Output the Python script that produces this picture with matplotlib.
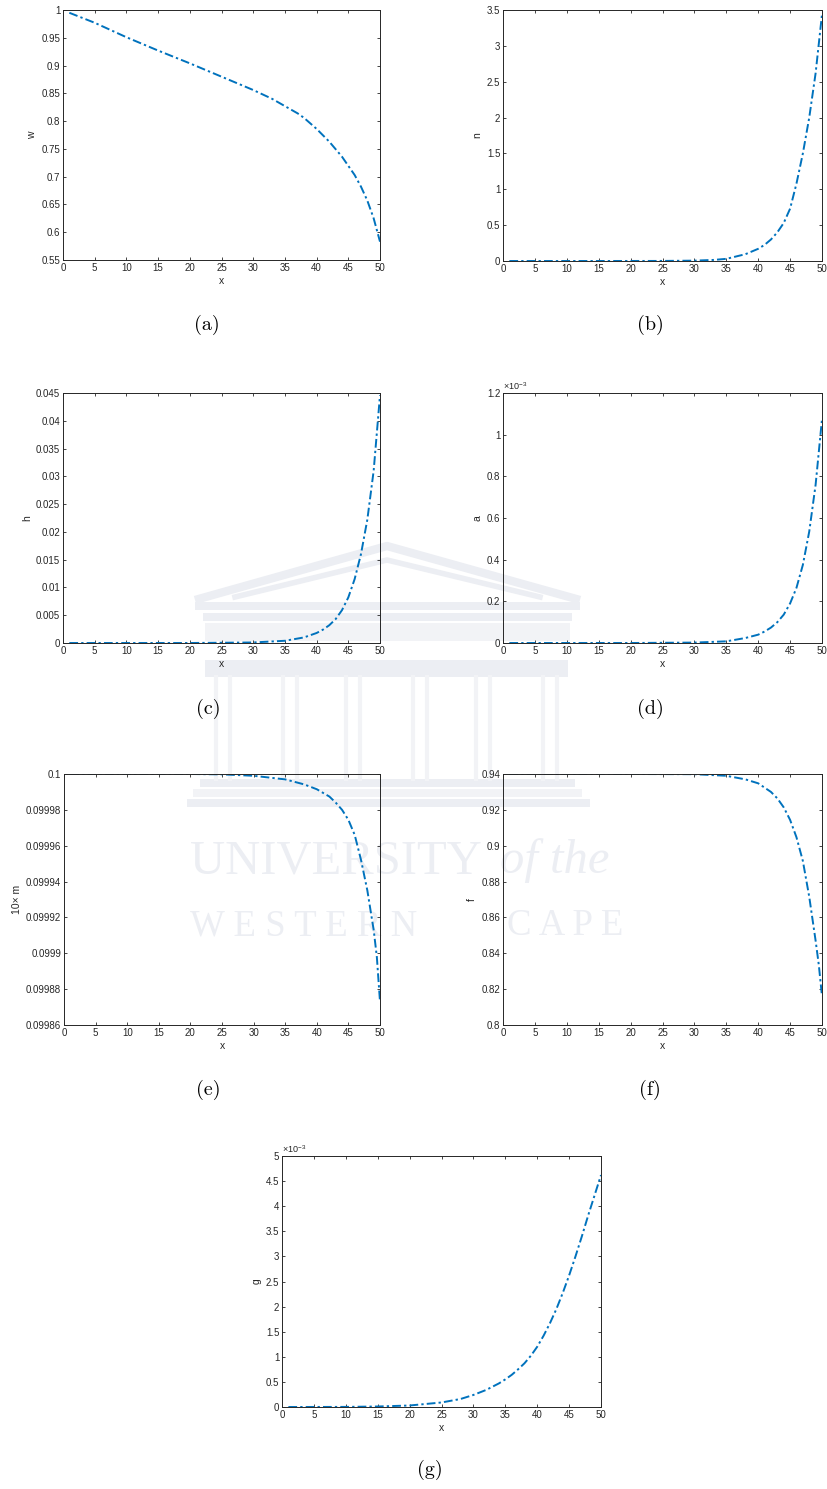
import matplotlib
matplotlib.use('Agg')
import matplotlib.pyplot as plt
from matplotlib.ticker import FormatStrFormatter
from matplotlib.patches import Rectangle
from matplotlib.lines import Line2D

# data
x_w = [1, 5, 10, 15, 20, 25, 30, 33, 35, 37, 38, 40, 42, 44, 46, 47, 48, 49, 50]
w = [0.995, 0.977, 0.951, 0.927, 0.904, 0.880, 0.856, 0.840, 0.827, 0.814,
     0.806, 0.786, 0.763, 0.736, 0.703, 0.682, 0.657, 0.625, 0.583]

x_n = [1, 10, 20, 25, 30, 33, 35, 38, 40, 41, 42, 43, 44, 45, 46, 47, 48, 49, 50]
n = [0, 0, 0.0005, 0.001, 0.005, 0.015, 0.03, 0.095, 0.17, 0.225, 0.3, 0.4,
     0.53, 0.73, 1.08, 1.5, 2.0, 2.62, 3.44]

x_h = [1, 10, 20, 30, 35, 38, 40, 41, 42, 43, 44, 45, 46, 47, 48, 49, 50]
h = [0, 0, 0, 0.0001, 0.0004, 0.001, 0.0018, 0.0024, 0.0032, 0.0043, 0.0059,
     0.0082, 0.0115, 0.016, 0.0222, 0.031, 0.0446]

x_a = [1, 10, 20, 30, 35, 38, 40, 41, 42, 43, 44, 45, 46, 47, 48, 49, 50]
a_e3 = [0, 0, 0, 0.002, 0.008, 0.024, 0.04, 0.055, 0.074, 0.1, 0.136, 0.19,
        0.265, 0.375, 0.535, 0.76, 1.075]   # in units of 1e-3

x_m = [1, 10, 20, 25, 30, 35, 38, 40, 42, 43, 44, 45, 46, 47, 48, 49, 49.5, 50]
m10 = [0.1, 0.1, 0.1, 0.0999998, 0.099999, 0.099997, 0.0999942, 0.0999915,
       0.0999874, 0.099984, 0.09998, 0.0999744, 0.099966, 0.099952, 0.099935,
       0.099913, 0.099898, 0.099873]

x_f = [1, 10, 20, 30, 35, 38, 40, 42, 43, 44, 45, 46, 47, 48, 49, 49.5, 50]
f = [0.94, 0.94, 0.94, 0.9399, 0.939, 0.937, 0.9348, 0.930, 0.9264, 0.9214,
     0.9144, 0.9047, 0.8915, 0.8715, 0.847, 0.8335, 0.816]

x_g = [1, 10, 15, 20, 25, 28, 30, 32, 34, 35, 36, 37, 38, 39, 40, 41, 42, 43,
       44, 45, 46, 47, 48, 49, 50]
g_e3 = [0, 0.002, 0.01, 0.03, 0.09, 0.16, 0.24, 0.34, 0.47, 0.55, 0.64, 0.75,
        0.87, 1.02, 1.2, 1.42, 1.67, 1.95, 2.27, 2.62, 3.0, 3.4, 3.82, 4.22,
        4.62]   # in units of 1e-3

xticks = list(range(0, 51, 5))

plt.rcParams['font.family'] = ['Liberation Sans', 'DejaVu Sans']
plt.rcParams['mathtext.fontset'] = 'custom'
plt.rcParams['mathtext.rm'] = 'Liberation Sans'
plt.rcParams['mathtext.it'] = 'Liberation Sans:italic'

W, H = 827, 1489
fig = plt.figure(figsize=(W / 100, H / 100), dpi=100)
fig.patch.set_facecolor('white')


def fx(px):
    return px / W


def fy(py):
    return 1 - py / H


# faint watermark (building + text) behind everything
wm = '#eceef3'
wm2 = '#f2f3f6'
fig.add_artist(Line2D([fx(195), fx(387), fx(580)], [fy(600), fy(546), fy(600)],
                      lw=6, color=wm, zorder=-5, solid_capstyle='butt'))
fig.add_artist(Line2D([fx(235), fx(387), fx(540)], [fy(597), fy(560), fy(597)],
                      lw=4, color=wm, zorder=-5))
for (l, t, r, b, c) in [(195, 602, 580, 610, wm), (203, 613, 572, 621, wm),
                        (205, 623, 570, 641, wm2), (205, 660, 568, 677, wm),
                        (200, 779, 575, 787, wm), (193, 789, 582, 797, wm2),
                        (187, 799, 590, 807, wm)]:
    fig.add_artist(Rectangle((fx(l), fy(b)), fx(r) - fx(l), fy(t) - fy(b),
                             transform=fig.transFigure, color=c, zorder=-5, lw=0))
for cx in [223, 290, 353, 420, 483, 550]:
    for dx in (-7, 7):
        fig.add_artist(Line2D([fx(cx + dx), fx(cx + dx)], [fy(677), fy(779)],
                              lw=3, color=wm2, zorder=-5))
fig.text(fx(190), fy(873), 'UNIVERSITY', fontsize=35, color=wm,
         family='Liberation Serif', ha='left', va='baseline', zorder=-4)
fig.text(fx(500), fy(873), 'of the', fontsize=35, color=wm, style='italic',
         family='Liberation Serif', ha='left', va='baseline', zorder=-4)
fig.text(fx(190), fy(935), 'W E S T E R N', fontsize=26.5, color=wm,
         family='Liberation Serif', ha='left', va='baseline', zorder=-4)
fig.text(fx(507), fy(935), 'C A P E', fontsize=26.5, color=wm,
         family='Liberation Serif', ha='left', va='baseline', zorder=-4)

panels = [
    ((63, 10, 380, 260), x_w, w, 'w', (0.55, 1.0), 0.05, False, '(a)', (207, 325)),
    ((503, 10, 822, 261), x_n, n, 'n', (0, 3.5), 0.5, False, '(b)', (650, 325)),
    ((63, 393, 380, 643), x_h, h, 'h', (0, 0.045), 0.005, False, '(c)', (208, 709)),
    ((503, 393, 822, 643), x_a, a_e3, 'a', (0, 1.2), 0.2, True, '(d)', (650, 709)),
    ((64, 774, 380, 1025), x_m, m10, '10\u00d7 m', (0.09986, 0.1), 0.00002, False, '(e)', (208, 1090)),
    ((503, 774, 822, 1025), x_f, f, 'f', (0.8, 0.94), 0.02, False, '(f)', (650, 1090)),
    ((282, 1156, 601, 1407), x_g, g_e3, 'g', (0, 5), 0.5, True, '(g)', (430, 1470)),
]

edge = '#262626'
for (box, xs, ys, lab, ylim, step, sci, cap, cpos) in panels:
    l, t, r, b = box
    ax = fig.add_axes([fx(l), fy(b), fx(r) - fx(l), fy(t) - fy(b)])
    ax.set_facecolor('none')
    ax.plot(xs, ys, color='#0072BD', linestyle=(0, (4.5, 1.6, 1.2, 1.6)), lw=1.4)
    ax.set_xlim(0, 50)
    ax.set_ylim(*ylim)
    ax.set_xticks(xticks)
    k = round((ylim[1] - ylim[0]) / step)
    ax.set_yticks([ylim[0] + i * step for i in range(k + 1)])
    ax.yaxis.set_major_formatter(FormatStrFormatter('%g'))
    ax.xaxis.set_major_formatter(FormatStrFormatter('%g'))
    ax.tick_params(direction='in', length=2.5, width=0.6, labelsize=7,
                   colors=edge, top=True, right=True, pad=2)
    for s in ax.spines.values():
        s.set_color(edge)
        s.set_linewidth(0.7)
    ax.set_xlabel('x', fontsize=7.5, color=edge, labelpad=2)
    ax.set_ylabel(lab, fontsize=7.5, color=edge, labelpad=3)
    if sci:
        ax.text(0.0, 1.003, r'$\times10^{-3}$', transform=ax.transAxes,
                fontsize=6.5, color=edge, ha='left', va='bottom')
    fig.text(fx(cpos[0]), fy(cpos[1]), cap, family='cmr10', fontsize=14.5,
             ha='center', va='center', color='black')

fig.savefig('out.png', dpi=100, facecolor='white')
